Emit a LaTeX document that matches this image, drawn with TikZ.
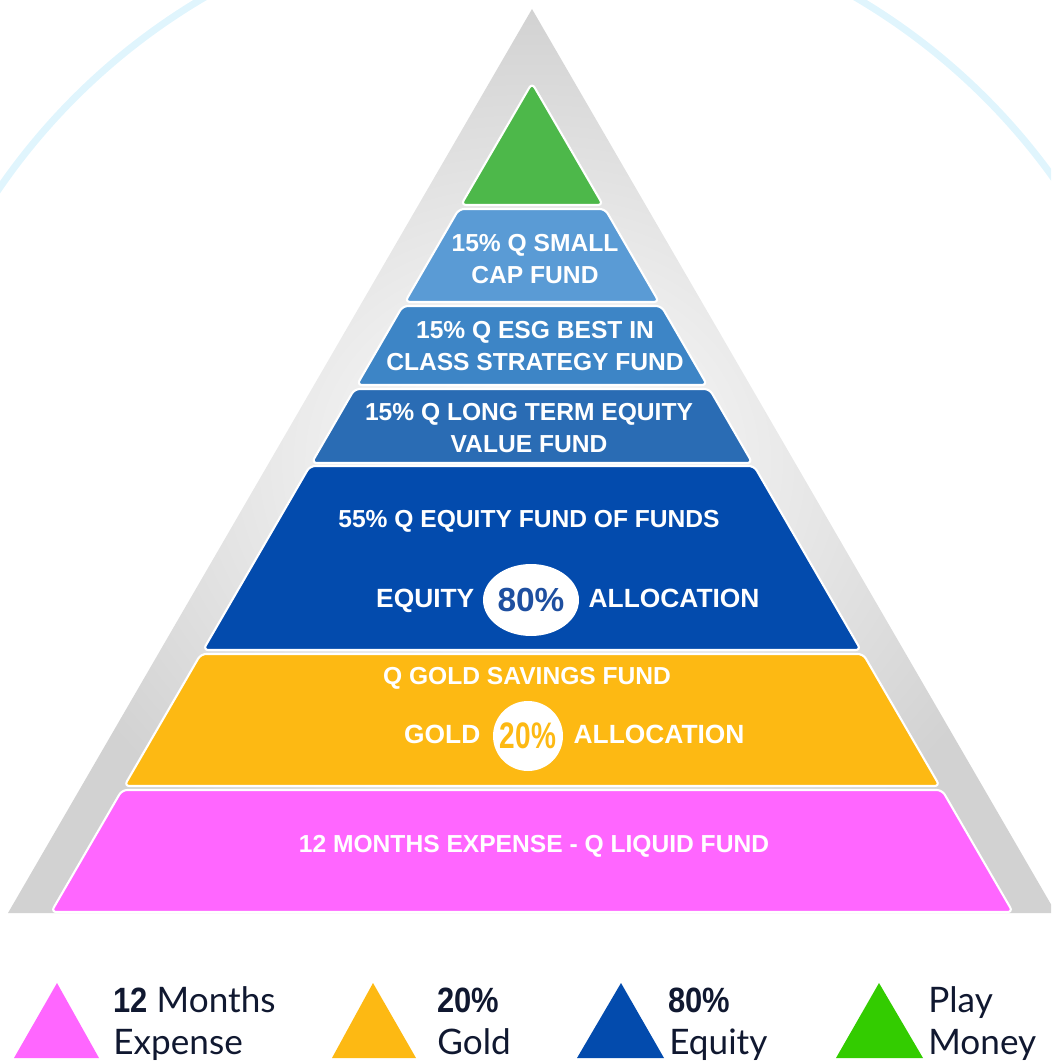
\documentclass[tikz,border=0pt]{standalone}
\usepackage{fontspec}
\usepackage{graphicx}
\setmainfont{Liberation Sans}
\newfontfamily\legendfont{Lato}
\usetikzlibrary{positioning,shapes.geometric}
\definecolor{halocyan}{HTML}{E0F5FD}
\definecolor{framegrey}{HTML}{D2D2D2}
\definecolor{tipgreen}{HTML}{4DB84A}
\definecolor{smallblue}{HTML}{5A9BD5}
\definecolor{esgblue}{HTML}{3D85C6}
\definecolor{ltblue}{HTML}{2A6CB4}
\definecolor{eqblue}{HTML}{034BAD}
\definecolor{badgeblue}{HTML}{1E4FA0}
\definecolor{goldfill}{HTML}{FDB913}
\definecolor{pinkfill}{HTML}{FF66FF}
\definecolor{leggreen}{HTML}{33CC00}
\definecolor{legnavy}{HTML}{101830}
\newcommand{\legnum}[1]{\scalebox{0.88}[1]{\rmfamily\bfseries #1}}
\tikzset{
  base/.style={font=\bfseries\fontsize{14}{18}\selectfont, align=center, inner sep=0pt, text=white},
  alloc/.style={base, font=\bfseries\fontsize{15}{18}\selectfont, text height=11pt, text depth=3pt},
  tier/.style={fill=#1, draw=white, line width=1.2pt, rounded corners=3pt},
  badge/.style={ellipse, fill=white, inner sep=0pt, minimum width=1.92cm, minimum height=1.44cm, font=\bfseries\fontsize{19}{20}\selectfont, text=badgeblue},
  coin/.style={circle, fill=white, inner sep=0pt, minimum size=1.4cm, text=goldfill},
  halo/.style={draw=halocyan, line width=0.14cm},
  frame/.style={inner color=white, outer color=framegrey},
  legtext/.style={font=\legendfont\fontsize{20}{24}\selectfont, text=legnavy, anchor=base west, inner sep=0pt},
}
\begin{document}
\begin{tikzpicture}[x=0.02cm,y=-0.02cm]
  \useasboundingbox (0,0) rectangle (1051,1064);
  % halo arc, upper part only
  \begin{scope}
    \clip (0,0) rectangle (1051,400);
    \draw[halo] (530,553) circle[radius=12.88cm];
  \end{scope}
  \begin{scope}
    \clip (0,0) rectangle (1051,1064);
    \shade[frame] (532,9) -- (1056,913) -- (8,913) -- cycle;
  \end{scope}
  % pyramid tiers
  \draw[tier=tipgreen] (532,83) -- (603,205) -- (461,205) -- cycle;
  \foreach \yt/\yb/\col in {209/302/smallblue,306/385/esgblue,389/463/ltblue,466/650/eqblue,654/786/goldfill,790/912/pinkfill}{
    \draw[tier=\col] ({532-0.58*(\yt-83)},\yt) -- ({532+0.58*(\yt-83)},\yt) -- ({532+0.58*(\yb-83)},\yb) -- ({532-0.58*(\yb-83)},\yb) -- cycle;
  }
  \node[base] (smallcap) at (535,259) {15\% Q SMALL\\CAP FUND};
  \node[base] (esg) at (535,346) {15\% Q ESG BEST IN\\CLASS STRATEGY FUND};
  \node[base] (longterm) at (529,428) {15\% Q LONG TERM EQUITY\\VALUE FUND};
  \node[base] (eqfof) at (529,521) {55\% Q EQUITY FUND OF FUNDS};
  \node[badge] (eqbadge) at (531,600) {80\%};
  \node[alloc,left=0.16cm of eqbadge] (eqlbl) {EQUITY};
  \node[alloc,right=0.18cm of eqbadge] (eqalloc) {ALLOCATION};
  \node[base] (goldfof) at (527,678) {Q GOLD SAVINGS FUND};
  \node[coin] (goldbadge) at (528,736) {\scalebox{0.76}[1]{\bfseries\fontsize{21}{22}\selectfont 20\%}};
  \node[alloc,left=0.24cm of goldbadge] (goldlbl) {GOLD};
  \node[alloc,right=0.2cm of goldbadge] (goldalloc) {ALLOCATION};
  \node[base] (liquid) at (534,846) {12 MONTHS EXPENSE - Q LIQUID FUND};
  % legend
  \fill[pinkfill] (57,983) -- (99,1058) -- (14,1058) -- cycle;
  \fill[goldfill] (373,983) -- (416,1058) -- (332,1058) -- cycle;
  \fill[eqblue] (621,983) -- (664,1058) -- (577,1058) -- cycle;
  \fill[leggreen] (879,983) -- (923,1058) -- (836,1058) -- cycle;
  \node[legtext] (legexpa) at (113,1012) {\legnum{12} Months};
  \node[legtext] (legexpb) at (113,1054) {Expense};
  \node[legtext] (leggolda) at (437,1012) {\legnum{20\%}};
  \node[legtext] (leggoldb) at (437,1054) {Gold};
  \node[legtext] (legeqa) at (668,1012) {\legnum{80\%}};
  \node[legtext] (legeqb) at (669,1054) {Equity};
  \node[legtext] (legplaya) at (928,1012) {Play};
  \node[legtext] (legplayb) at (928,1054) {Money};
\end{tikzpicture}
\end{document}
